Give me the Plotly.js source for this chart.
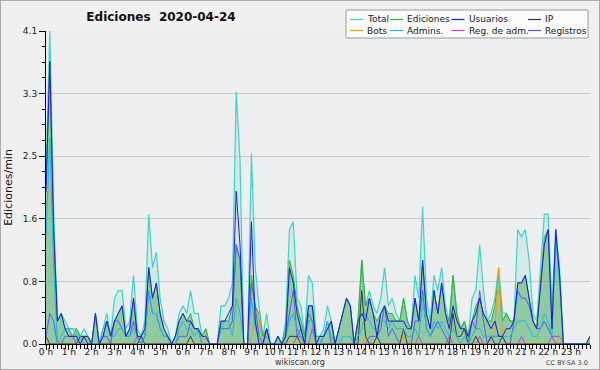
<!DOCTYPE html>
<html><head><meta charset="utf-8">
<script src="https://cdn.plot.ly/plotly-3.0.1.min.js"></script>
<style>
html,body{margin:0;padding:0;background:#f0f0f0;}
#chart{width:598px;height:368px;border:1px solid #ababab;}
</style></head><body><div id="chart"></div>
<script>
// ---- data (edits per minute, 10-minute bins, 2020-04-24) ----
const hourTicks = [0,1,2,3,4,5,6,7,8,9,10,11,12,13,14,15,16,17,18,19,20,21,22,23];
const hourLabels = ["0 h","1 h","2 h","3 h","4 h","5 h","6 h","7 h","8 h","9 h","10 h","11 h","12 h","13 h","14 h","15 h","16 h","17 h","18 h","19 h","20 h","21 h","22 h","23 h"];
const yTickValues = [0, 0.82, 1.64, 2.46, 3.28, 4.1];
const yTickLabels = ["0.0","0.8","1.6","2.5","3.3","4.1"];
const seriesNames = ["Total","Ediciones","Usuarios","IP","Bots","Admins.","Reg. de adm.","Registros"];

const total = [2.2,4.1,1.8,0.3,0.4,0.3,0.2,0.2,0.2,0.1,0.2,0.1,
 0,0.4,0,0.2,0.4,0.1,0.6,0.7,0.7,0.2,0.3,0.9,
 0.2,0.1,0.3,1.7,1.0,1.2,0.6,0.3,0.2,0,0.1,0.4,
 0.5,0.4,0.7,0.4,0.4,0.1,0.2,0,0,0,0.5,0.5,
 0.6,0.8,3.3,2.4,0,0,2.5,1.0,0.5,0.1,0.4,0,
 0,0.1,0,0.3,1.5,1.6,0.6,0.5,0.1,0.9,0.8,0.1,
 0.1,0.2,0.5,0.3,0,0.2,0.4,0.6,0.5,0,0.3,1.1,
 0.5,0.7,0.5,0.4,0.6,1.0,0.5,0.6,0.4,0.3,0.6,0.3,
 0.2,0.9,0.6,1.8,0.6,0.3,0.9,0.7,1.0,0.5,0.3,0.9,
 0.4,0.2,0.3,0.1,0.6,0.7,1.3,0.7,0.3,0.4,0.6,1.0,
 0.4,0.4,0.3,0.3,1.5,1.4,1.5,1.1,0.4,0.3,1.0,1.7,
 1.7,0.5,1.5,1.0,0,0,0,0,0,0,0,0.1];

const ediciones = [2.1,3.7,1.5,0.3,0.4,0.2,0.2,0.1,0.2,0.1,0.1,0.1,
 0,0.4,0,0.1,0.3,0.1,0.3,0.4,0.5,0.1,0.2,0.6,
 0.1,0.1,0.2,1.0,0.6,0.8,0.4,0.2,0.1,0,0.1,0.3,
 0.4,0.3,0.4,0.2,0.2,0.1,0.2,0,0,0,0.3,0.3,
 0.3,0.5,1.3,1.1,0,0,0.9,0.5,0.4,0.1,0.2,0,
 0,0.1,0,0.2,1.1,0.9,0.5,0.3,0.1,0.5,0.5,0.1,
 0.1,0.1,0.2,0.3,0,0.2,0.4,0.6,0.5,0,0.3,1.1,
 0.5,0.6,0.4,0.3,0.4,0.5,0.4,0.4,0.3,0.3,0.6,0.3,
 0.2,0.6,0.3,1.1,0.4,0.2,0.7,0.4,0.8,0.4,0.3,0.9,
 0.4,0.2,0.3,0.1,0.3,0.5,0.6,0.4,0.3,0.3,0.5,0.9,
 0.3,0.4,0.3,0.3,0.8,0.8,0.9,0.6,0.3,0.2,0.8,1.4,
 1.5,0.3,1.4,0.9,0,0,0,0,0,0,0,0.1];

const usuarios = [2.0,3.7,1.5,0.3,0.4,0.2,0.1,0.1,0.1,0,0.1,0,
 0,0.4,0,0.1,0.3,0.1,0.3,0.4,0.5,0.1,0.2,0.6,
 0.1,0.1,0.2,1.0,0.6,0.8,0.4,0.2,0.1,0,0.1,0.3,
 0.4,0.3,0.3,0.2,0.2,0.1,0.1,0,0,0,0.3,0.3,
 0.4,0.5,2.0,1.3,0,0,1.6,0.3,0,0,0.2,0,
 0,0.1,0,0.1,1.0,0.8,0.4,0.2,0,0.5,0.5,0,
 0.1,0.1,0.2,0.3,0,0.2,0.4,0.6,0.5,0,0.3,0.4,
 0.3,0.6,0.4,0.1,0.4,0.5,0.3,0.3,0.3,0.3,0.3,0.2,
 0.2,0.6,0.3,1.1,0.4,0.2,0.7,0.4,0.8,0.4,0.2,0.5,
 0.3,0.2,0.2,0.1,0.3,0.4,0.6,0.4,0.3,0.2,0.3,0.1,
 0.1,0.2,0.2,0.3,0.8,0.8,0.9,0.6,0.3,0.2,0.8,1.3,
 1.5,0.2,1.5,0.9,0,0,0,0,0,0,0,0];

const ip = [0.1,0,0,0,0,0,0,0,0,0.1,0.1,0.1,
 0,0,0,0,0,0,0,0,0,0,0,0,
 0,0.1,0,0,0,0,0,0,0,0,0,0,
 0,0,0.1,0,0,0,0,0,0,0,0,0,
 0,0,0,0,0,0,0,0,0,0,0,0,
 0,0,0,0,0.1,0.1,0.1,0,0,0,0,0,
 0,0,0,0,0,0,0,0,0,0,0,0.7,
 0.1,0,0,0.1,0,0,0,0,0,0,0.2,0,
 0,0,0,0,0,0,0,0,0,0,0,0.4,
 0.1,0.1,0.2,0,0,0.1,0,0,0,0.1,0,0,
 0.1,0,0,0,0,0,0,0,0,0,0,0,
 0,0,0,0,0,0,0,0,0,0,0,0.1];

const bots = [0,0,0,0,0,0,0,0,0,0,0,0,
 0,0,0,0,0,0,0,0,0,0,0,0,
 0,0,0,0,0,0,0,0,0,0,0,0,
 0,0,0,0,0,0,0.1,0,0,0,0,0,
 0,0,0,0,0,0,0.1,0.4,0.4,0,0,0,
 0,0,0,0,0,0,0,0,0,0,0,0,
 0,0,0,0,0,0,0,0,0,0,0,0,
 0.1,0,0,0,0,0,0,0,0,0,0.1,0,
 0,0,0,0,0,0,0,0,0,0,0,0,
 0,0,0,0,0,0,0,0,0,0.1,0.2,1.0,
 0.1,0,0,0,0,0,0,0,0,0,0,0,
 0,0,0,0.1,0,0,0,0,0,0,0,0];

const admins = [1.4,2.7,1.0,0,0.1,0.2,0.2,0.2,0.1,0.1,0,0,
 0,0,0,0.2,0.3,0.1,0.1,0.2,0.2,0.1,0.1,0.2,
 0.1,0,0.1,0.7,0.4,0.4,0.2,0.1,0.1,0,0,0.2,
 0.3,0.2,0.2,0.1,0.2,0,0,0,0,0,0.2,0.3,
 0.3,0.1,0.6,0.4,0,0,0.6,0.2,0.1,0,0.1,0,
 0,0,0,0.1,0.3,0.4,0.2,0.1,0,0.3,0.3,0,
 0,0.1,0.3,0.1,0,0,0.1,0.1,0.1,0,0.1,0.2,
 0.4,0.3,0.2,0.2,0.3,0.3,0.2,0.3,0.2,0.2,0.2,0.1,
 0.1,0.2,0.1,0.6,0.2,0.1,0.3,0.2,0.3,0.2,0.1,0.2,
 0.1,0,0.1,0,0.1,0.2,0.2,0.1,0.1,0.1,0.1,0.1,
 0.1,0.1,0.1,0.2,0.3,0.3,0.3,0.2,0.1,0.1,0.2,0.4,
 0.3,0.1,1.4,0.8,0,0,0,0,0,0,0,0];

const regAdm = [0,0,0,0,0,0,0,0,0,0,0,0,
 0,0,0,0,0,0,0,0,0,0,0,0,
 0.1,0,0,0,0,0,0,0,0,0,0,0,
 0,0,0,0,0,0,0,0,0,0,0,0,
 0,0,0,0,0,0,0,0,0,0,0,0,
 0,0,0,0,0,0,0.1,0.1,0,0,0.2,0,
 0,0,0,0,0,0,0,0,0,0,0,0,
 0,0,0,0,0,0,0,0,0,0,0,0,
 0,0,0.1,0,0,0,0,0,0,0,0.1,0,
 0,0,0,0,0,0,0.1,0,0,0,0,0,
 0,0,0,0,0,0.1,0,0,0,0,0,0,
 0,0.1,0,0,0,0,0,0,0,0,0,0];

const registros = [0.1,0.4,0.3,0,0,0.1,0.1,0.1,0,0,0,0,
 0,0,0,0.1,0.1,0,0.3,0.3,0.2,0.1,0.1,0.3,
 0.1,0,0.1,0.7,0.4,0.4,0.2,0.1,0.1,0,0,0.1,
 0.1,0.1,0.3,0.2,0.2,0,0,0,0,0,0.2,0.2,
 0.2,0.3,1.3,1.1,0,0,0.8,0.5,0.1,0,0.2,0,
 0,0,0,0.1,0.4,0.7,0.1,0.2,0,0.4,0.3,0,
 0,0.1,0.3,0,0,0,0,0,0,0,0,0,
 0,0.1,0.1,0.1,0.2,0.5,0.1,0.2,0.1,0,0,0,
 0,0.3,0.3,0.7,0.2,0.1,0.2,0.3,0.2,0.1,0,0,
 0,0,0,0,0.3,0.2,0.7,0.3,0,0.1,0.1,0.1,
 0.1,0,0,0.3,0.7,0.6,0.6,0.5,0.3,0.2,0.2,0.3,
 0.2,0.1,0.1,0.1,0,0,0,0,0,0,0,0];

// time of each 10-minute bin, in hours
const times = total.map((_, i) => i / 6);

// ---- styling ----
const W = 598, H = 368, ML = 45, MR = 9, MT = 30, MB = 25;
const PW = W - ML - MR, PH = H - MT - MB;
const px = x => (x - ML) / PW;
const py = y => (MT + PH - y) / PH;
const FONT = "DejaVu Sans";

const colors = {
  "Total": "#3fd4c6", "Ediciones": "#36b336", "Usuarios": "#1a1ae0", "IP": "#3a3a3a",
  "Bots": "#ff9a00", "Admins.": "#22b8e2", "Reg. de adm.": "#c23fe0", "Registros": "#5a5af2"
};
const seriesData = {
  "Total": total, "Ediciones": ediciones, "Usuarios": usuarios, "IP": ip,
  "Bots": bots, "Admins.": admins, "Reg. de adm.": regAdm, "Registros": registros
};
const drawOrder = ["Total","Ediciones","Registros","Reg. de adm.","Bots","IP","Admins.","Usuarios"];
const fills = { "Total": "rgba(80,220,190,0.16)", "Ediciones": "rgba(60,165,75,0.45)" };

const traces = drawOrder.map(name => {
  const t = {
    type: "scatter", mode: "lines", name: name, x: times, y: seriesData[name],
    line: { color: colors[name], width: name === "Total" ? 1.2 : 1.0 },
    showlegend: false, hoverinfo: "skip"
  };
  if (fills[name]) { t.fill = "tozeroy"; t.fillcolor = fills[name]; }
  return t;
});

// ---- legend box (two rows of four) ----
const legendRows = [[seriesNames[0], seriesNames[1], seriesNames[2], seriesNames[3]],
                    [seriesNames[4], seriesNames[5], seriesNames[6], seriesNames[7]]];
const colStarts = [349, 389, 450.5, 527];
const rowY = [18.5, 29.5];
const shapes = [{
  type: "rect", xref: "paper", yref: "paper", layer: "above",
  x0: px(345), x1: px(587), y0: py(37), y1: py(9),
  fillcolor: "#fbfbfb", line: { color: "#9c9c9c", width: 1 }
}];
const annotations = [];
legendRows.forEach((row, r) => row.forEach((name, c) => {
  shapes.push({ type: "line", xref: "paper", yref: "paper", layer: "above",
    x0: px(colStarts[c]), x1: px(colStarts[c] + 13), y0: py(rowY[r]), y1: py(rowY[r]),
    line: { color: colors[name], width: 1.2 } });
  annotations.push({ text: name, xref: "paper", yref: "paper", showarrow: false,
    x: px(colStarts[c] + 15), y: py(rowY[r]), xanchor: "left", yanchor: "middle",
    font: { family: FONT, size: 9, color: "#222" } });
}));
annotations.push({ text: "wikiscan.org", xref: "paper", yref: "paper", showarrow: false,
  x: px(299), y: py(361), xanchor: "center", yanchor: "middle",
  font: { family: FONT, size: 8, color: "#333" } });
annotations.push({ text: "CC BY-SA 3.0", xref: "paper", yref: "paper", showarrow: false,
  x: px(589), y: py(362), xanchor: "right", yanchor: "middle",
  font: { family: FONT, size: 6.5, color: "#444" } });

const layout = {
  width: W, height: H,
  margin: { l: ML, r: MR, t: MT, b: MB, pad: 0 },
  paper_bgcolor: "#f0f0f0", plot_bgcolor: "#eceef0",
  font: { family: FONT, size: 9, color: "#222" },
  title: { text: "Ediciones  2020-04-24", xref: "container", yref: "container",
    x: 160 / W, xanchor: "center", y: 1 - 16 / H, yanchor: "middle",
    font: { family: FONT, size: 12, color: "#111", weight: "bold" } },
  xaxis: {
    range: [0, 143 / 6], tickmode: "array", tickvals: hourTicks, ticktext: hourLabels,
    ticks: "outside", ticklen: 5, tickwidth: 1, tickcolor: "#000", ticklabelstandoff: -6,
    showline: true, linecolor: "#000", linewidth: 1, showgrid: false, zeroline: false,
    tickfont: { family: FONT, size: 9, color: "#222" }, automargin: false,
    minor: { tickmode: "linear", tick0: 0, dtick: 1 / 6, ticks: "outside", ticklen: 4,
             tickcolor: "#000", tickwidth: 1, showgrid: false }
  },
  yaxis: {
    range: [0, 4.1], tickmode: "array", tickvals: yTickValues, ticktext: yTickLabels,
    ticks: "outside", ticklen: 6, tickwidth: 1, tickcolor: "#000",
    showline: true, linecolor: "#000", linewidth: 1,
    showgrid: true, gridcolor: "#cacaca", gridwidth: 1, zeroline: false,
    tickfont: { family: FONT, size: 9, color: "#222" }, automargin: false,
    title: { text: "Ediciones/min", standoff: 8, font: { family: FONT, size: 11, color: "#111" } },
    minor: { tickmode: "linear", tick0: 0, dtick: 0.205, ticks: "outside", ticklen: 3,
             tickcolor: "#000", tickwidth: 1, showgrid: false }
  },
  shapes: shapes,
  annotations: annotations,
  showlegend: false
};

Plotly.newPlot("chart", traces, layout, { staticPlot: true, displayModeBar: false });
</script></body></html>
